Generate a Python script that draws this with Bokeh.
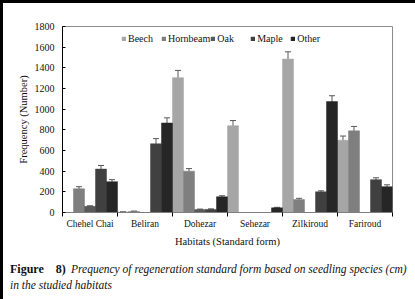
from bokeh.plotting import figure
from bokeh.layouts import column
from bokeh.models import (ColumnDataSource, FactorRange, Range1d, LinearAxis, CategoricalAxis,
                          FixedTicker, Whisker, TeeHead, Legend, Div)
from bokeh.transform import dodge
from bokeh.embed import file_html
from bokeh.resources import INLINE

habitats = ["Chehel Chai", "Beliran", "Dohezar", "Sehezar", "Zilkiroud", "Fariroud"]
species = ["Beech", "Hornbeam", "Oak", "Maple", "Other"]

beech = [0, 5, 1305, 840, 1485, 700]
hornbeam = [230, 10, 400, 0, 125, 790]
oak = [60, 0, 28, 0, 0, 0]
maple = [420, 665, 30, 0, 200, 318]
other = [298, 866, 152, 45, 1073, 250]

beech_err = [0, 3, 70, 50, 70, 40]
hornbeam_err = [20, 4, 25, 0, 12, 43]
oak_err = [5, 0, 5, 0, 0, 0]
maple_err = [35, 50, 5, 0, 10, 18]
other_err = [20, 50, 10, 5, 57, 18]

y_ticks = [0, 200, 400, 600, 800, 1000, 1200, 1400, 1600, 1800]

caption_fig = "Figure"
caption_num = "8)"
caption_line1 = "Prequency of regeneration standard form based on seedling species (cm)"
caption_line2 = "in the studied habitats"

values = [beech, hornbeam, oak, maple, other]
errors = [beech_err, hornbeam_err, oak_err, maple_err, other_err]
colors = ["#a6a6a6", "#7f7f7f", "#595959", "#404040", "#262626"]
offsets = [-0.4, -0.2, 0.0, 0.2, 0.4]

SERIF = "Liberation Serif"
TXT = "#111111"

p = figure(x_range=FactorRange(*habitats, range_padding=0), y_range=Range1d(0, 1800),
           width=408, height=252, output_backend="svg", toolbar_location=None,
           x_axis_location=None, min_border_left=59, min_border_right=19,
           min_border_top=23, min_border_bottom=43)
p.xgrid.visible = False
p.ygrid.visible = False
p.outline_line_color = "#8c8c8c"
p.background_fill_color = "white"
p.border_fill_color = "white"

# y axis
ya = p.yaxis[0]
ya.ticker = FixedTicker(ticks=y_ticks)
ya.minor_tick_line_color = None
ya.major_tick_in = 3
ya.major_tick_out = 0
ya.axis_line_color = "#000000"
ya.major_tick_line_color = "#000000"
ya.major_label_text_font = SERIF
ya.major_label_text_font_size = "10px"
ya.major_label_text_color = TXT
ya.major_label_standoff = 8
ya.axis_label = "Frequency (Number)"
ya.axis_label_text_font = SERIF
ya.axis_label_text_font_size = "10.5px"
ya.axis_label_text_font_style = "normal"
ya.axis_label_text_color = TXT
ya.axis_label_standoff = 3

# boundary ticks between habitats (minor ticks only, no labels)
ba = LinearAxis(ticker=FixedTicker(ticks=[], minor_ticks=list(range(len(habitats) + 1))))
ba.major_tick_line_color = None
ba.minor_tick_out = 4
ba.minor_tick_in = 0
ba.minor_tick_line_color = "#000000"
ba.axis_line_color = "#7f7f7f"
p.add_layout(ba, "below")

ca = CategoricalAxis()
ca.axis_line_color = None
ca.major_tick_line_color = None
ca.major_tick_out = 0
ca.major_tick_in = 0
ca.major_label_standoff = 2
ca.major_label_text_font = SERIF
ca.major_label_text_font_size = "9.5px"
ca.major_label_text_color = TXT
ca.axis_label = "Habitats (Standard form)"
ca.axis_label_text_font = SERIF
ca.axis_label_text_font_size = "10.5px"
ca.axis_label_text_font_style = "normal"
ca.axis_label_text_color = TXT
ca.axis_label_standoff = 4
p.add_layout(ca, "below")

data = {"habitat": habitats}
for name, vals in zip(species, values):
    data[name] = vals
src = ColumnDataSource(data)

items = []
for name, col, off in zip(species, colors, offsets):
    r = p.vbar(x=dodge("habitat", off, range=p.x_range), top=name, width=0.2, source=src,
               fill_color=col, line_color=col, line_width=0.5)
    items.append((name, [r]))

for name, vals, errs, off in zip(species, values, errors, offsets):
    wd = {"habitat": [], "up": [], "lo": []}
    for h, v, e in zip(habitats, vals, errs):
        if v > 0:
            wd["habitat"].append(h)
            wd["up"].append(v + e)
            wd["lo"].append(v - e)
    wsrc = ColumnDataSource(wd)
    w = Whisker(base=dodge("habitat", off, range=p.x_range), upper="up", lower="lo", source=wsrc,
                line_color="#595959", line_width=1,
                upper_head=TeeHead(size=6, line_color="#595959", line_width=1),
                lower_head=TeeHead(size=6, line_color="#595959", line_width=1))
    p.add_layout(w)

legend = Legend(items=items, orientation="horizontal", location=(59, 168),
                glyph_width=5, glyph_height=5, label_standoff=2, spacing=0,
                label_width=33, padding=0, margin=0, label_height=12,
                label_text_font=SERIF, label_text_font_size="10px", label_text_color=TXT,
                border_line_color=None, background_fill_alpha=0)
p.add_layout(legend, "center")

bold = "font-weight:bold;font-style:normal;font-size:12px;display:inline-block;"
cap_html = (
    f'<span style="{bold}width:45.7px">{caption_fig}</span>'
    f'<span style="{bold}width:15.3px">{caption_num}</span>'
    f'<i>{caption_line1}</i><br><i>{caption_line2}</i>'
)
cap = Div(text=cap_html, width=408, height=40,
          styles={"font-family": "'Liberation Serif', serif", "font-size": "11.5px",
                  "line-height": "16.5px", "color": TXT, "background-color": "white",
                  "white-space": "nowrap", "padding": "0.5px 0 0 2px",
                  "box-sizing": "border-box", "overflow": "hidden"})

layout = column(p, cap, spacing=0, margin=(3, 4, 4, 3),
                styles={"background-color": "white"})

html = file_html(layout, INLINE)
html = html.replace("</head>", "<style>html,body{margin:0;padding:0;background:#000000;}</style></head>", 1)
open("out.html", "w").write(html)
